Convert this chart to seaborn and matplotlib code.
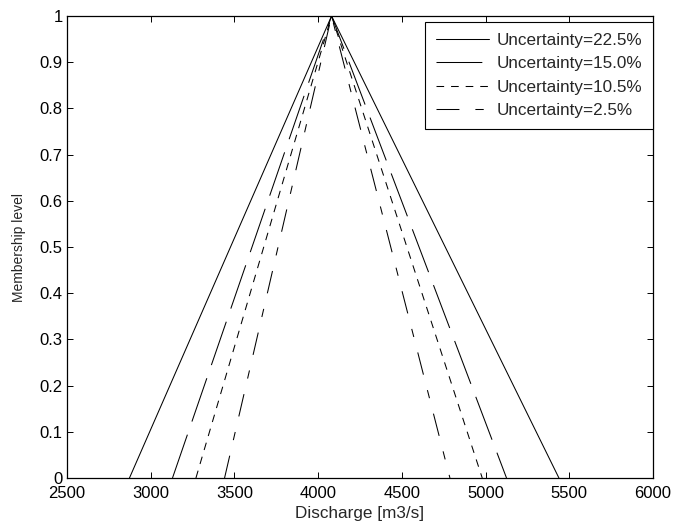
import matplotlib
matplotlib.use("Agg")
import matplotlib.pyplot as plt
import seaborn as sns
import pandas as pd

# values
labels = ["Uncertainty=22.5%", "Uncertainty=15.0%", "Uncertainty=10.5%", "Uncertainty=2.5%"]
peak = 4080
left_ends = [2873, 3130, 3270, 3441]
right_ends = [5438, 5125, 4980, 4787]
x_ticks = [2500, 3000, 3500, 4000, 4500, 5000, 5500, 6000]
y_ticks = [0, 0.1, 0.2, 0.3, 0.4, 0.5, 0.6, 0.7, 0.8, 0.9, 1]
y_ticklabels = ["0", "0.1", "0.2", "0.3", "0.4", "0.5", "0.6", "0.7", "0.8", "0.9", "1"]

styles = ["-", (0, (33, 10)), (0, (5.5, 5)), (0, (16.5, 11.5, 6, 11.5))]

sns.set_style("ticks")
plt.rcParams["font.family"] = ["Liberation Sans", "DejaVu Sans"]
plt.rcParams["lines.scale_dashes"] = False

rows = []
for lab, lo, hi in zip(labels, left_ends, right_ends):
    rows += [
        {"label": lab, "order": 0, "q": lo, "mu": 0.0},
        {"label": lab, "order": 1, "q": peak, "mu": 1.0},
        {"label": lab, "order": 2, "q": hi, "mu": 0.0},
    ]
df = pd.DataFrame(rows)

fig = plt.figure(figsize=(6.74, 5.25), dpi=100)
ax = fig.add_axes([0.0994, 0.0895, 0.8695, 0.880])

for lab, ls in zip(labels, styles):
    sns.lineplot(data=df[df["label"] == lab], x="q", y="mu", sort=False,
                 color="black", linewidth=0.75, linestyle=ls, label=lab, ax=ax)

ax.set_xlim(2500, 6000)
ax.set_ylim(0, 1)
ax.set_xticks(x_ticks)
ax.set_yticks(y_ticks)
ax.set_yticklabels(y_ticklabels)
ax.tick_params(direction="in", length=4, width=0.7, top=True, right=True,
               labelsize=12, colors="black")
ax.tick_params(axis="x", pad=6)
ax.tick_params(axis="y", pad=3)
for s in ax.spines.values():
    s.set_linewidth(0.9)
    s.set_color("black")

ax.set_xlabel("Discharge [m3/s]", fontsize=12.3, labelpad=3)
ax.set_ylabel("Membership level", fontsize=10, labelpad=10)

leg = ax.legend(loc="upper right", bbox_to_anchor=(1.0, 0.987), fontsize=12.3,
                frameon=True, fancybox=False, framealpha=1, edgecolor="black",
                handlelength=3.1, borderaxespad=0.0, labelspacing=0.48,
                handletextpad=0.45, borderpad=0.65)
leg.get_frame().set_linewidth(0.8)

fig.savefig("out.png", dpi=100)
